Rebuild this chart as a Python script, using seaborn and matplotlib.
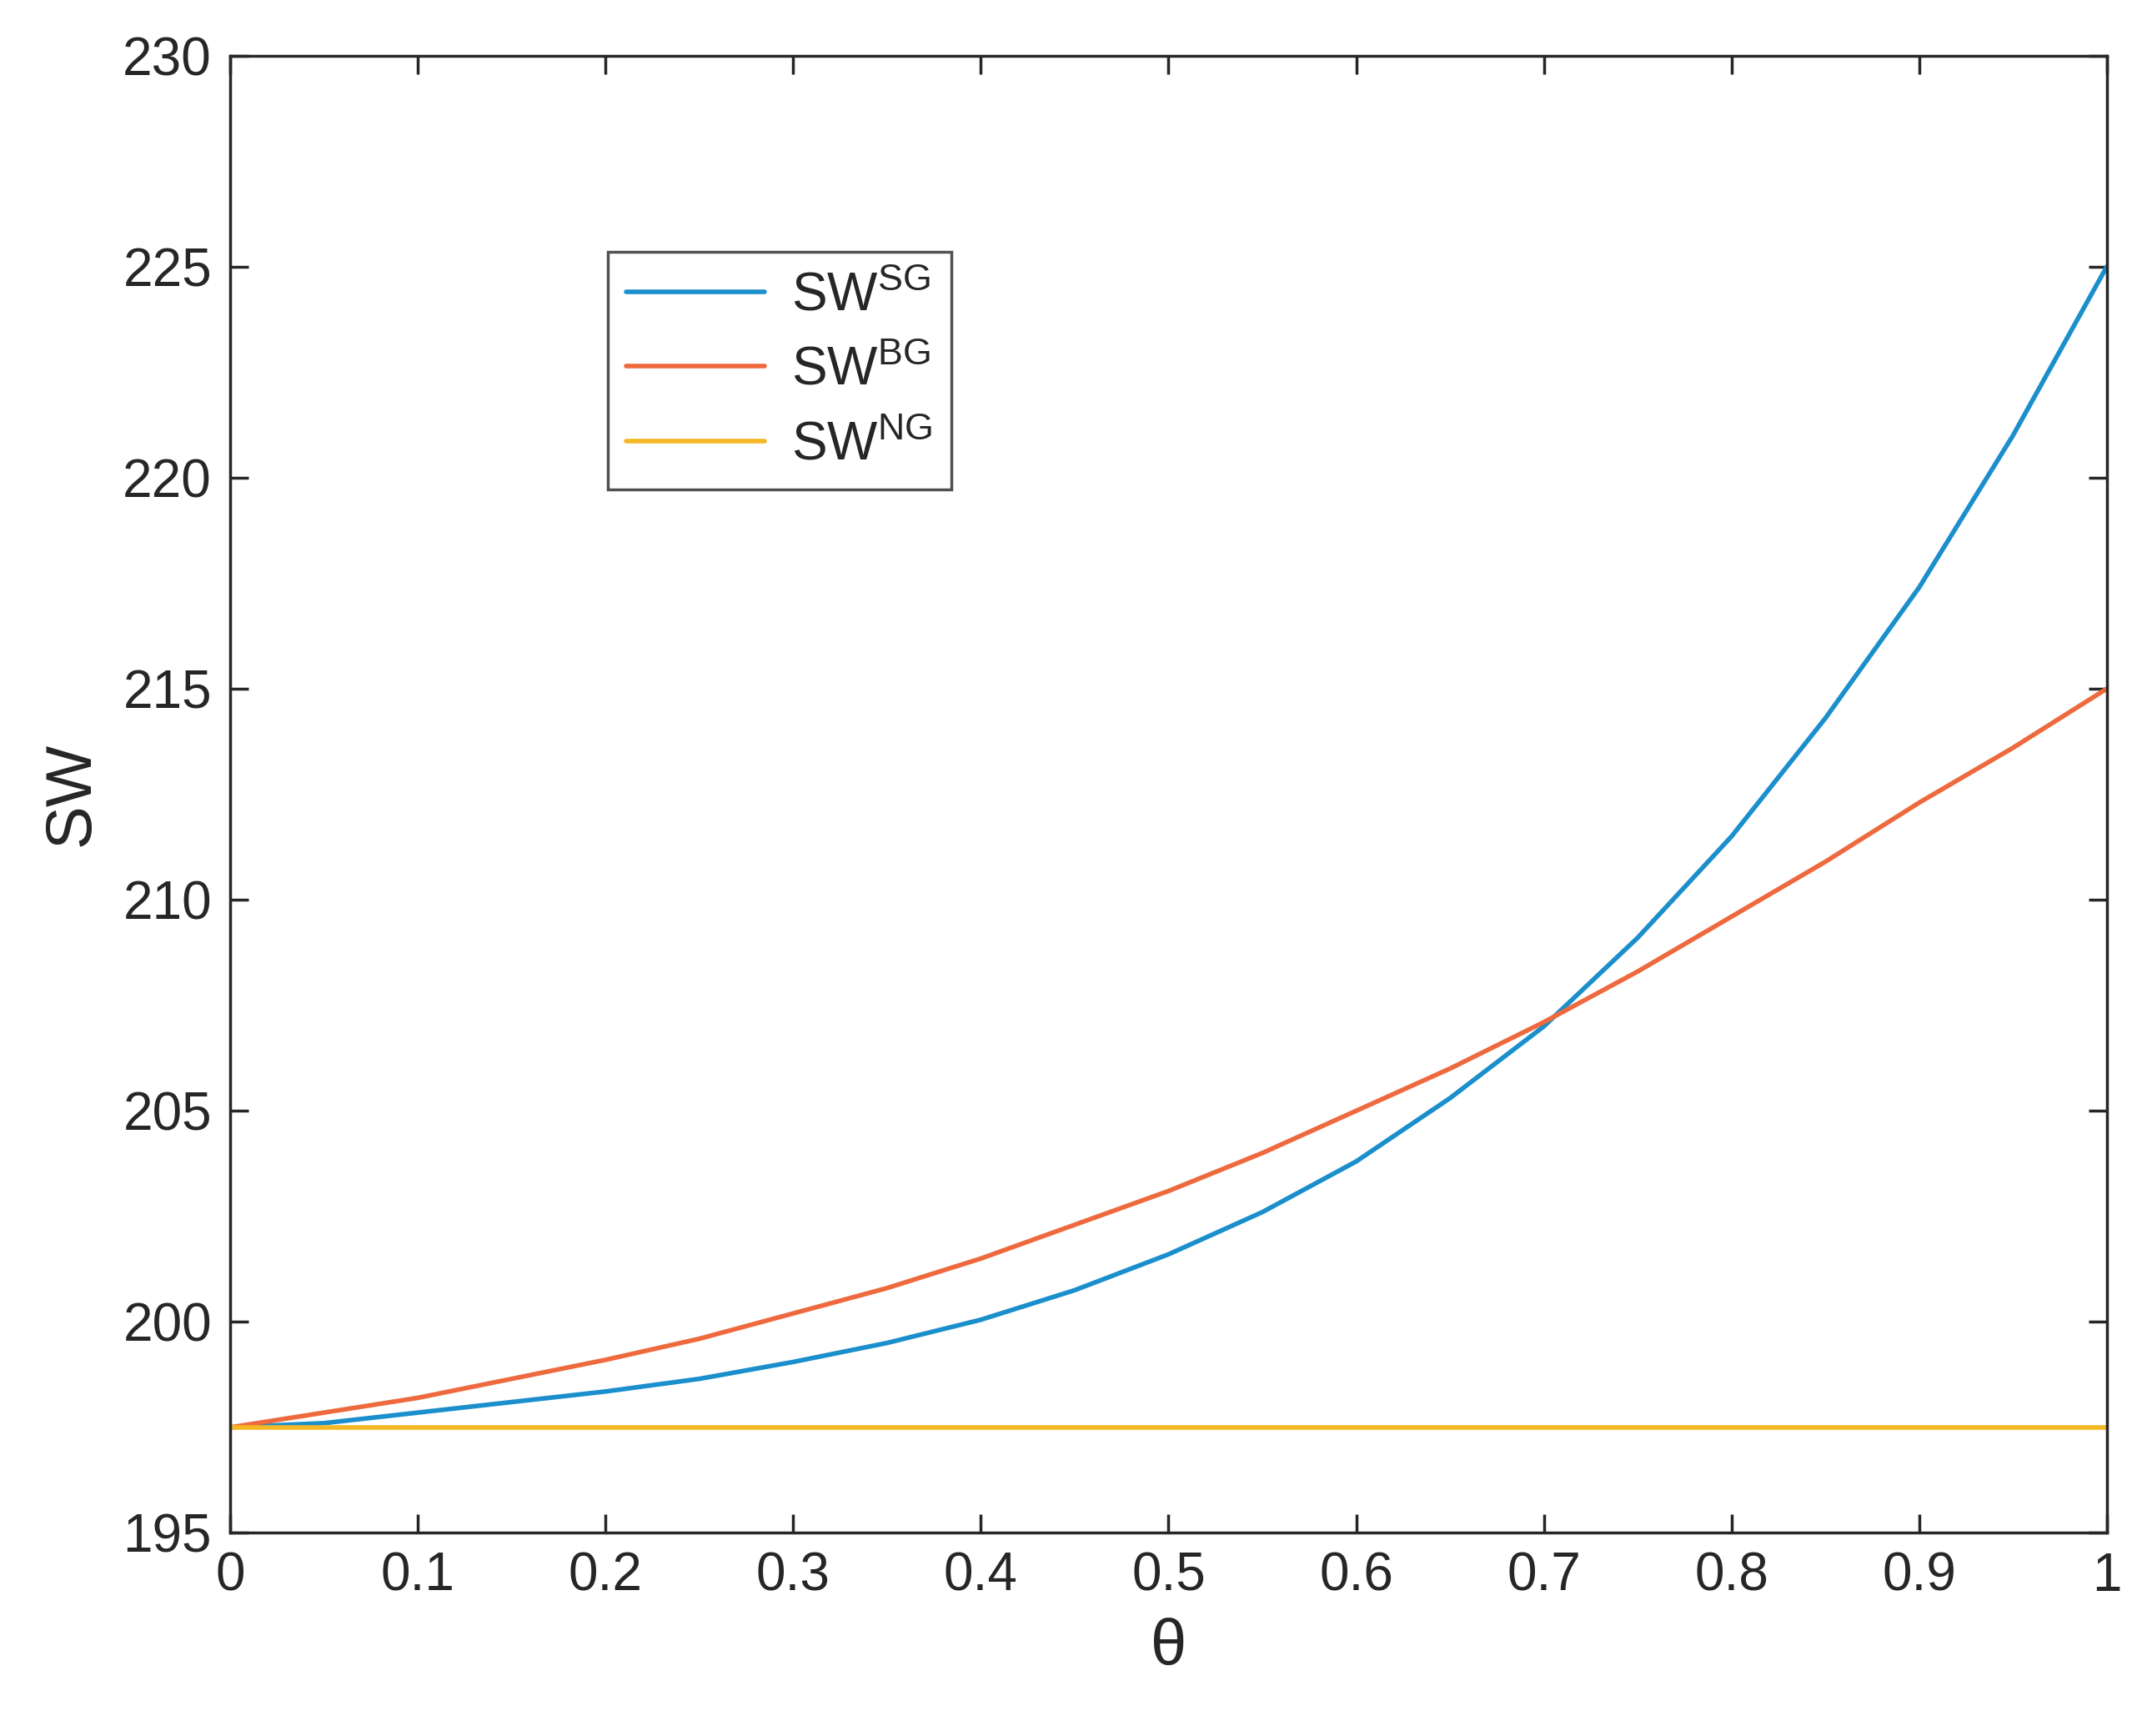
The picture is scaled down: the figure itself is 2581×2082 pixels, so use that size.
import matplotlib
matplotlib.use("Agg")
import matplotlib.pyplot as plt
import seaborn as sns

theta = [0, .05, .1, .15, .2, .25, .3, .35, .4, .45, .5, .55, .6, .65, .7, .75, .8, .85, .9, .95, 1.0]
sw_sg = [197.5, 197.6, 197.85, 198.1, 198.35, 198.65, 199.05, 199.5, 200.05, 200.75, 201.6,
         202.6, 203.8, 205.3, 207.0, 209.1, 211.5, 214.3, 217.4, 221.0, 225.0]
sw_bg = [197.5, 197.85, 198.2, 198.65, 199.1, 199.6, 200.2, 200.8, 201.5, 202.3, 203.1,
         204.0, 205.0, 206.0, 207.1, 208.3, 209.6, 210.9, 212.3, 213.6, 215.0]
sw_ng = [197.5] * len(theta)
labels = [r"SW$^{\mathrm{SG}}$", r"SW$^{\mathrm{BG}}$", r"SW$^{\mathrm{NG}}$"]
colors = ["#1A8FCC", "#EE6A3E", "#F4B824"]

sns.set_style("ticks")
plt.rcParams['font.family'] = ['Liberation Sans', 'DejaVu Sans']
plt.rcParams['mathtext.fontset'] = 'custom'
plt.rcParams['mathtext.rm'] = 'Liberation Sans'

fig = plt.figure(figsize=(25.81, 20.82), dpi=100)
ax = fig.add_axes([0.107, 0.117, 0.872, 0.851])
for y, lab, c in zip([sw_sg, sw_bg, sw_ng], labels, colors):
    sns.lineplot(x=theta, y=y, ax=ax, color=c, linewidth=4, label=lab)

ax.set_xlim(0, 1)
ax.set_ylim(195, 230)
ax.set_xticks([0, .1, .2, .3, .4, .5, .6, .7, .8, .9, 1])
ax.set_xticklabels(["0", "0.1", "0.2", "0.3", "0.4", "0.5", "0.6", "0.7", "0.8", "0.9", "1"])
ax.set_yticks(range(195, 231, 5))
ax.tick_params(labelsize=46, direction="in", length=16, width=2.5, top=True, right=True, colors="#262626", pad=16)
for s in ax.spines.values():
    s.set_linewidth(2.5)
    s.set_color("#262626")
ax.set_xlabel("θ", fontsize=56, color="#262626", labelpad=14)
ax.set_ylabel("SW", fontsize=56, color="#262626", labelpad=18)
leg = ax.legend(loc="upper left", bbox_to_anchor=(0.187, 0.885), fontsize=46, frameon=True,
                fancybox=False, edgecolor="#262626", handlelength=2.6, handletextpad=0.5,
                borderpad=0.35, labelspacing=0.45)
leg.get_frame().set_linewidth(2.5)
fig.savefig("out.png", dpi=100, facecolor="white")
